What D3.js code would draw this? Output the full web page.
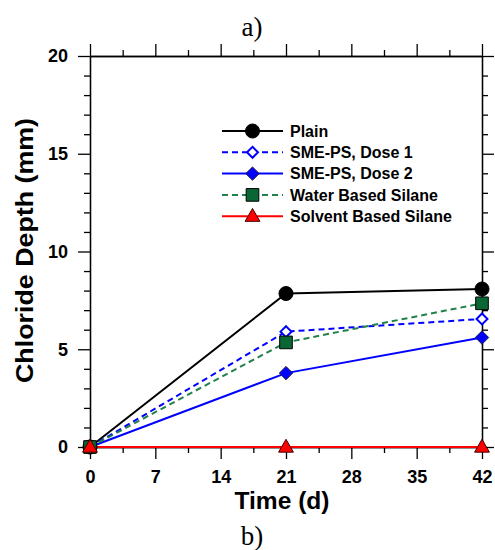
<!DOCTYPE html>
<html>
<head>
<meta charset="utf-8">
<script src="https://cdn.jsdelivr.net/npm/d3@7"></script>
<style>
  html, body { margin: 0; padding: 0; background: #fff; }
  svg { display: block; }
  .tick text { font-family: "Liberation Sans", Arial, sans-serif; font-weight: bold; }
</style>
</head>
<body>
<script>
// Chloride penetration depth over exposure time
const days = [0, 21, 42];
const plain = [0, 7.85, 8.08];
const smeDose1 = [0, 5.9, 6.55];
const smeDose2 = [0, 3.78, 5.6];
const waterSilane = [0, 5.35, 7.35];
const solventSilane = [0, 0, 0];
const seriesNames = ["Plain", "SME-PS, Dose 1", "SME-PS, Dose 2", "Water Based Silane", "Solvent Based Silane"];
const xTicks = [0, 7, 14, 21, 28, 35, 42];
const yTicks = [0, 5, 10, 15, 20];

const W = 495, H = 550;
const M = { left: 90, right: 482, top: 56, bottom: 447 };

const svg = d3.select("body").append("svg").attr("width", W).attr("height", H);

const x = d3.scaleLinear().domain([0, 42]).range([M.left, M.right]);
const y = d3.scaleLinear().domain([0, 20]).range([M.bottom, M.top]);

const xMinor = d3.range(0, 42.01, 3.5).filter(v => v % 7 !== 0);
const yMinor = d3.range(0, 20.01, 1).filter(v => v % 5 !== 0);

function styleAxis(g) {
  g.selectAll("path").attr("stroke", "#000").attr("stroke-width", 1.3);
  g.selectAll("line").attr("stroke", "#000").attr("stroke-width", 1.3);
}

// bottom axis
svg.append("g").attr("transform", `translate(0,${M.bottom})`)
  .call(d3.axisBottom(x).tickValues(xTicks).tickSize(12).tickSizeOuter(0).tickPadding(11))
  .call(g => g.selectAll("text").attr("font-size", 18).attr("fill", "#000"))
  .call(styleAxis);
svg.append("g").attr("transform", `translate(0,${M.bottom})`)
  .call(d3.axisBottom(x).tickValues(xMinor).tickSize(6).tickSizeOuter(0).tickFormat(""))
  .call(styleAxis);
// top axis
svg.append("g").attr("transform", `translate(0,${M.top})`)
  .call(d3.axisTop(x).tickValues(xTicks).tickSize(12).tickSizeOuter(0).tickFormat(""))
  .call(styleAxis);
svg.append("g").attr("transform", `translate(0,${M.top})`)
  .call(d3.axisTop(x).tickValues(xMinor).tickSize(6).tickSizeOuter(0).tickFormat(""))
  .call(styleAxis);
// left axis
svg.append("g").attr("transform", `translate(${M.left},0)`)
  .call(d3.axisLeft(y).tickValues(yTicks).tickSize(12).tickSizeOuter(0).tickPadding(10))
  .call(g => g.selectAll("text").attr("font-size", 18).attr("fill", "#000"))
  .call(styleAxis);
svg.append("g").attr("transform", `translate(${M.left},0)`)
  .call(d3.axisLeft(y).tickValues(yMinor).tickSize(6).tickSizeOuter(0).tickFormat(""))
  .call(styleAxis);
// right axis
svg.append("g").attr("transform", `translate(${M.right},0)`)
  .call(d3.axisRight(y).tickValues(yTicks).tickSize(12).tickSizeOuter(0).tickFormat(""))
  .call(styleAxis);
svg.append("g").attr("transform", `translate(${M.right},0)`)
  .call(d3.axisRight(y).tickValues(yMinor).tickSize(6).tickSizeOuter(0).tickFormat(""))
  .call(styleAxis);

// axis titles
svg.append("text")
  .attr("x", 282).attr("y", 509)
  .attr("text-anchor", "middle")
  .attr("font-family", "Liberation Sans, Arial, sans-serif")
  .attr("font-weight", "bold").attr("font-size", 23)
  .attr("textLength", 95).attr("lengthAdjust", "spacingAndGlyphs")
  .text("Time (d)");
svg.append("text")
  .attr("transform", "translate(33,250.5) rotate(-90)")
  .attr("text-anchor", "middle")
  .attr("font-family", "Liberation Sans, Arial, sans-serif")
  .attr("font-weight", "bold").attr("font-size", 24)
  .attr("textLength", 265).attr("lengthAdjust", "spacingAndGlyphs")
  .text("Chloride Depth (mm)");

// panel captions
svg.append("text")
  .attr("x", 252).attr("y", 36)
  .attr("text-anchor", "middle")
  .attr("font-family", "Liberation Serif, Times New Roman, serif")
  .attr("font-size", 27)
  .text("a)");
svg.append("text")
  .attr("x", 252).attr("y", 545)
  .attr("text-anchor", "middle")
  .attr("font-family", "Liberation Serif, Times New Roman, serif")
  .attr("font-size", 27)
  .text("b)");

// square diamond (equal width and height)
const symbolRhombus = {
  draw(ctx, size) {
    const r = Math.sqrt(size / 2);
    ctx.moveTo(0, -r);
    ctx.lineTo(r, 0);
    ctx.lineTo(0, r);
    ctx.lineTo(-r, 0);
    ctx.closePath();
  }
};
// wide triangle, base at the bottom
const symbolWideTri = {
  draw(ctx, size) {
    const h = Math.sqrt(size * 2 / 1.15);
    const w = h * 1.15;
    ctx.moveTo(0, -h * 0.6);
    ctx.lineTo(w / 2, h * 0.4);
    ctx.lineTo(-w / 2, h * 0.4);
    ctx.closePath();
  }
};

// series styling
const series = [
  { name: seriesNames[0], values: plain, stroke: "#000", dash: null, symbol: d3.symbolCircle, size: 155, fill: "#000", mstroke: "#000", sw: 1 },
  { name: seriesNames[1], values: smeDose1, stroke: "#0000ff", dash: "6,4", symbol: symbolRhombus, size: 60, fill: "#fff", mstroke: "#0000ff", sw: 2 },
  { name: seriesNames[2], values: smeDose2, stroke: "#0000ff", dash: null, symbol: symbolRhombus, size: 90, fill: "#0000ff", mstroke: "#202040", sw: 1 },
  { name: seriesNames[3], values: waterSilane, stroke: "#22804a", dash: "6,4", symbol: d3.symbolSquare, size: 160, fill: "#0a6632", mstroke: "#000", sw: 1 },
  { name: seriesNames[4], values: solventSilane, stroke: "#ff0000", dash: null, symbol: symbolWideTri, size: 95, fill: "#ff0000", mstroke: "#400000", sw: 1 }
];

const line = d3.line().x(d => x(d[0])).y(d => y(d[1]));

series.forEach(s => {
  const pts = days.map((d, i) => [d, s.values[i]]);
  svg.append("path")
    .datum(pts)
    .attr("d", line)
    .attr("fill", "none")
    .attr("stroke", s.stroke)
    .attr("stroke-width", 2)
    .attr("stroke-dasharray", s.dash);
});
series.forEach(s => {
  const pts = days.map((d, i) => [d, s.values[i]]);
  const sym = d3.symbol().type(s.symbol).size(s.size);
  svg.append("g").selectAll("path")
    .data(pts)
    .join("path")
    .attr("transform", d => `translate(${x(d[0])},${y(d[1])})`)
    .attr("d", sym)
    .attr("fill", s.fill)
    .attr("stroke", s.mstroke)
    .attr("stroke-width", s.sw);
});

// legend
const leg = svg.append("g").attr("transform", "translate(222,131)");
series.forEach((s, i) => {
  const row = leg.append("g").attr("transform", `translate(0,${i * 21.3})`);
  row.append("line")
    .attr("x1", 0).attr("x2", 61).attr("y1", 0).attr("y2", 0)
    .attr("stroke", s.stroke).attr("stroke-width", 2)
    .attr("stroke-dasharray", s.dash);
  row.append("path")
    .attr("transform", "translate(30.5,0)")
    .attr("d", d3.symbol().type(s.symbol).size(s.size))
    .attr("fill", s.fill)
    .attr("stroke", s.mstroke)
    .attr("stroke-width", s.sw);
  row.append("text")
    .attr("x", 68).attr("y", 0).attr("dy", "0.36em")
    .attr("font-family", "Liberation Sans, Arial, sans-serif")
    .attr("font-weight", "bold").attr("font-size", 16)
    .text(s.name);
});
</script>
</body>
</html>
